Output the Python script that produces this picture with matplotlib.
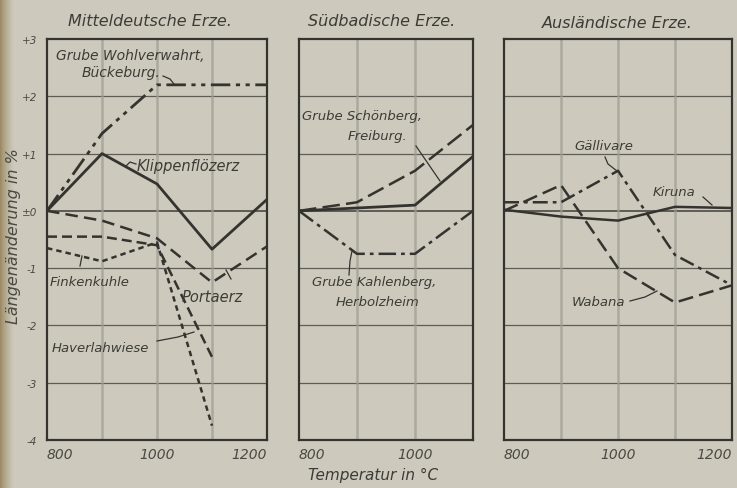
import matplotlib
matplotlib.use("Agg")
import matplotlib.pyplot as plt
import numpy as np

# ---- data: linear change (%) vs. temperature (°C) ----
temps_5 = [800, 900, 1000, 1100, 1200]
temps_4 = [800, 900, 1000, 1100]

# Mitteldeutsche Erze
wohlverwahrt = [0.0, 1.35, 2.2, 2.2, 2.2]
klippenfloez = [0.0, 1.0, 0.47, -0.67, 0.2]
portaerz = [0.0, -0.17, -0.48, -1.25, -0.62]
haverlahwiese = [-0.45, -0.45, -0.6, -2.55]
finkenkuhle = [-0.65, -0.88, -0.55, -3.75]

# Südbadische Erze
schoenberg_a = [0.0, 0.15, 0.7, 1.5]
schoenberg_b = [0.0, 0.05, 0.1, 0.95]
kahlenberg = [0.0, -0.75, -0.75, 0.0]

# Ausländische Erze
kiruna = [0.02, -0.1, -0.17, 0.07, 0.05]
gaellivare = [0.15, 0.15, 0.7, -0.77, -1.3]
wabana = [0.0, 0.45, -1.0, -1.6, -1.3]

y_ticks = [3, 2, 1, 0, -1, -2, -3, -4]
y_ticklabels = ["+3", "+2", "+1", "±0", "-1", "-2", "-3", "-4"]

BG = "#cdcabd"
INK = "#35332f"
GRID_H = "#5f5c55"
GRID_V = "#a09d93"
FONT = ["DejaVu Sans"]

plt.rcParams["font.family"] = FONT
plt.rcParams["font.style"] = "italic"

fig = plt.figure(figsize=(7.37, 4.89), dpi=100, facecolor=BG)

W, H = 737.0, 489.0

# darker paper edge along the left border
edge = fig.add_axes([0, 0, 14 / W, 1], zorder=-5)
grad = np.linspace(0, 1, 64)[None, :, None]
c0 = np.array([150, 132, 92]) / 255.0
c1 = np.array([205, 202, 189]) / 255.0
edge.imshow(c0 + (c1 - c0) * grad ** 0.7, aspect="auto", extent=[0, 1, 0, 1])
edge.axis("off")


def make_ax(x0, x1, y0, y1, xmax):
    ax = fig.add_axes([x0 / W, 1 - y1 / H, (x1 - x0) / W, (y1 - y0) / H])
    ax.set_facecolor(BG)
    ax.set_xlim(800, xmax)
    ax.set_ylim(-4, 3)
    for y in range(-3, 3):
        ax.axhline(y, color=GRID_H, lw=0.9 if y else 1.4, zorder=1)
    for x in range(900, xmax, 100):
        ax.axvline(x, color=GRID_V, lw=1.8, alpha=0.75, zorder=1)
    for s in ax.spines.values():
        s.set_color(INK)
        s.set_linewidth(1.6)
    ax.set_yticks(y_ticks)
    ax.set_yticklabels([])
    ax.tick_params(length=0, pad=5, colors="#4a4842")
    return ax


ax1 = make_ax(47, 267, 40, 441, 1200)
ax2 = make_ax(299, 473, 40, 441, 1100)
ax3 = make_ax(504, 732, 40, 441, 1200)

ax1.set_yticklabels(y_ticklabels, fontsize=7.5, style="italic")
ax1.tick_params(axis="y", pad=7)

for ax, ticks in ((ax1, [800, 1000, 1200]), (ax2, [800, 1000]), (ax3, [800, 1000, 1200])):
    ax.set_xticks(ticks)
    ax.set_xticklabels([str(t) for t in ticks], fontsize=10, style="italic")
    lbls = ax.get_xticklabels()
    for lbl in lbls:
        lbl.set_color("#4a4842")
    lbls[0].set_horizontalalignment("left")
    if ticks[-1] == 1200:
        lbls[-1].set_horizontalalignment("right")

kw = dict(color=INK, zorder=3, solid_capstyle="butt", dash_capstyle="butt")

# Mitteldeutsche Erze
ax1.plot(temps_5, wohlverwahrt, lw=2.0, linestyle=(0, (7, 2, 1.5, 2, 1.5, 2)), **kw)
ax1.plot(temps_5, klippenfloez, lw=2.0, linestyle="-", **kw)
ax1.plot(temps_5, portaerz, lw=1.8, linestyle=(0, (5, 2.5)), **kw)
ax1.plot(temps_4, haverlahwiese, lw=1.8, linestyle=(0, (4, 2)), **kw)
ax1.plot(temps_4, finkenkuhle, lw=1.8, linestyle=(0, (2.2, 1.6)), **kw)

# Südbadische Erze
ax2.plot(temps_4, schoenberg_a, lw=1.8, linestyle=(0, (7, 2.5)), **kw)
ax2.plot(temps_4, schoenberg_b, lw=2.0, linestyle="-", **kw)
ax2.plot(temps_4, kahlenberg, lw=1.8, linestyle=(0, (7, 2, 1.5, 2)), **kw)

# Ausländische Erze
ax3.plot(temps_5, kiruna, lw=1.8, linestyle="-", **kw)
ax3.plot(temps_5, gaellivare, lw=1.8, linestyle=(0, (6, 2, 1.5, 2)), **kw)
ax3.plot(temps_5, wabana, lw=1.8, linestyle=(0, (6, 2.5)), **kw)

# ---- labels and leader lines (figure pixel coordinates) ----
TXT = "#3d3b36"


def ftext(x, y, s, size=9.5, ha="left"):
    fig.text(x / W, 1 - y / H, s, fontsize=size, ha=ha, va="center", color=TXT,
             style="italic", family=FONT)


def leader(pts):
    xs = [p[0] / W for p in pts]
    ys = [1 - p[1] / H for p in pts]
    fig.add_artist(plt.Line2D(xs, ys, color=INK, lw=0.9))


# titles
ftext(150, 21, "Mitteldeutsche Erze.", size=11.5, ha="center")
ftext(382, 21, "Südbadische Erze.", size=11.5, ha="center")
ftext(617, 23, "Ausländische Erze.", size=11.5, ha="center")

# axis titles
fig.text(14 / W, 1 - 236 / H, "Längenänderung in %", rotation=90, fontsize=11.5,
         ha="center", va="center", color="#4a4842", style="italic", family=FONT)
ftext(373, 475, "Temperatur in °C", size=11, ha="center")

# Mitteldeutsche Erze
ftext(130, 56, "Grube Wohlverwahrt,", size=10, ha="center")
ftext(121, 73, "Bückeburg.", size=10, ha="center")
leader([(163, 77), (170, 80), (174, 85)])
ftext(137, 166, "Klippenflözerz", size=10.5)
leader([(136, 165), (130, 163), (126, 167)])
ftext(50, 282, "Finkenkuhle")
leader([(80, 267), (82, 257)])
ftext(182, 297, "Portaerz", size=10.5)
leader([(226, 271), (231, 280)])
ftext(52, 349, "Haverlahwiese")
leader([(157, 342), (178, 338), (194, 333)])

# Südbadische Erze
ftext(362, 117, "Grube Schönberg,", size=9.5, ha="center")
ftext(378, 137, "Freiburg.", size=9.5, ha="center")
leader([(416, 147), (440, 182)])
ftext(374, 283, "Grube Kahlenberg,", size=9.5, ha="center")
ftext(378, 302, "Herbolzheim", size=9.5, ha="center")
leader([(349, 276), (350, 262), (352, 252)])

# Ausländische Erze
ftext(604, 147, "Gällivare", ha="center")
leader([(605, 158), (608, 165), (617, 172)])
ftext(653, 193, "Kiruna")
leader([(703, 198), (712, 206)])
ftext(572, 302, "Wabana")
leader([(630, 302), (645, 298), (657, 292)])

fig.savefig("out.png", dpi=100, facecolor=BG)
